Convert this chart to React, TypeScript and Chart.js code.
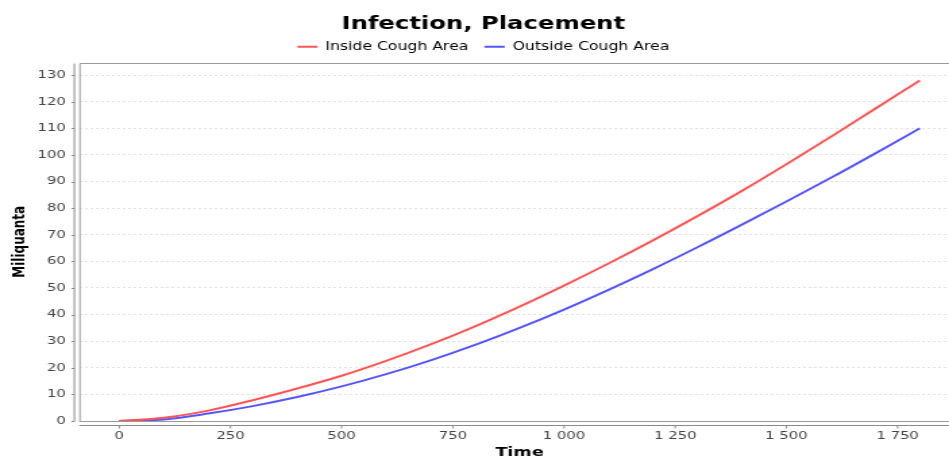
import React, { useEffect, useRef } from "react";
import { Chart, registerables } from "chart.js";

Chart.register(...registerables);

// ---- data ----
const chartTitle = "Infection, Placement";
const xAxisTitle = "Time";
const yAxisTitle = "Miliquanta";
const seriesNames = ["Inside Cough Area", "Outside Cough Area"];
const seriesColors = ["#ff5555", "#5555ff"];

const times = [0, 100, 200, 300, 400, 500, 600, 700, 800, 900, 1000, 1100, 1200, 1300, 1400, 1500, 1600, 1700, 1800];
const insideCough = [0, 1.2, 3.9, 7.8, 12.2, 17.0, 22.6, 28.8, 35.6, 43.0, 50.9, 59.2, 67.9, 77.0, 86.5, 96.5, 106.8, 117.4, 128];
const outsideCough = [0, 0.6, 2.8, 5.6, 9.0, 13.0, 17.6, 22.8, 28.6, 35.0, 41.9, 49.3, 57.1, 65.3, 73.8, 82.5, 91.4, 100.6, 110];

const xTickValues = [0, 250, 500, 750, 1000, 1250, 1500, 1750];
const yTickValues = [0, 10, 20, 30, 40, 50, 60, 70, 80, 90, 100, 110, 120, 130];

// ---- layout constants ----
const STRETCH = 1.35;
const CANVAS_W = 716;
const CANVAS_H = 456;
const FONT = "'DejaVu Sans', sans-serif";

function fmt(v: number): string {
  return String(Math.round(v)).replace(/\B(?=(\d{3})+(?!\d))/g, " ");
}

const axisDeco = {
  id: "axisDeco",
  afterDatasetsDraw(chart: any) {
    const { ctx, chartArea: a, scales } = chart;
    ctx.save();
    ctx.strokeStyle = "#9a9a9a";
    ctx.lineWidth = 1;
    const top = Math.round(a.top) + 0.5;
    const bottom = Math.round(a.bottom) + 0.5;
    // plot border
    ctx.beginPath();
    ctx.moveTo(a.left + 0.5, bottom);
    ctx.lineTo(a.left + 0.5, top);
    ctx.lineTo(a.right + 20, top);
    ctx.moveTo(a.left, bottom);
    ctx.lineTo(a.right + 20, bottom);
    ctx.stroke();
    // offset axis lines + tick marks
    ctx.strokeStyle = "#8a8a8a";
    ctx.beginPath();
    const yx = a.left - 3.6;
    ctx.moveTo(yx, top);
    ctx.lineTo(yx, bottom);
    yTickValues.forEach((v) => {
      const py = Math.round(scales.y.getPixelForValue(v)) + 0.5;
      ctx.moveTo(yx - 2.2, py);
      ctx.lineTo(yx, py);
    });
    const xy = Math.round(a.bottom) + 4.5;
    ctx.moveTo(a.left, xy);
    ctx.lineTo(a.right + 20, xy);
    xTickValues.forEach((v) => {
      const px = scales.x.getPixelForValue(v);
      ctx.moveTo(px, xy);
      ctx.lineTo(px, xy + 3);
    });
    ctx.stroke();
    ctx.restore();
  },
};

export default function App() {
  const ref = useRef<HTMLCanvasElement | null>(null);

  useEffect(() => {
    document.body.style.margin = "0";
    const canvas = ref.current;
    if (!canvas) return;
    const chart = new Chart(canvas, {
      type: "line",
      data: {
        datasets: [
          {
            label: seriesNames[0],
            data: times.map((t, i) => ({ x: t, y: insideCough[i] })),
            borderColor: seriesColors[0],
            backgroundColor: seriesColors[0],
            borderWidth: 2,
            pointRadius: 0,
            cubicInterpolationMode: "monotone",
            fill: false,
          },
          {
            label: seriesNames[1],
            data: times.map((t, i) => ({ x: t, y: outsideCough[i] })),
            borderColor: seriesColors[1],
            backgroundColor: seriesColors[1],
            borderWidth: 2,
            pointRadius: 0,
            cubicInterpolationMode: "monotone",
            fill: false,
          },
        ],
      },
      options: {
        responsive: false,
        animation: false,
        devicePixelRatio: 1,
        layout: { padding: { left: 5, right: 5, top: 0, bottom: 0 } },
        plugins: {
          title: {
            display: true,
            text: chartTitle,
            color: "#000",
            font: { family: FONT, size: 18, weight: "bold", lineHeight: 0.5 },
            padding: { top: 20, bottom: 0 },
          },
          legend: {
            display: true,
            labels: {
              font: { family: FONT, size: 11.6 },
              color: "#333",
              boxWidth: 15,
              boxHeight: 2,
              padding: 12,
              generateLabels: (c: any) =>
                c.data.datasets.map((ds: any, i: number) => ({
                  text: ds.label,
                  fillStyle: ds.borderColor,
                  strokeStyle: ds.borderColor,
                  lineWidth: 0,
                  hidden: false,
                  datasetIndex: i,
                })),
            },
          },
          tooltip: { enabled: false },
        },
        scales: {
          x: {
            type: "linear",
            min: -90,
            max: 1890,
            afterBuildTicks: (s: any) => {
              s.ticks = xTickValues.map((v) => ({ value: v }));
            },
            afterFit: (s: any) => {
              s.height = 35;
            },
            grid: { display: false, drawTicks: false },
            border: { display: false },
            ticks: {
              padding: 9,
              color: "#444",
              font: { family: FONT, size: 11 },
              maxRotation: 0,
              autoSkip: false,
              callback: (v: any) => fmt(Number(v)),
            },
            title: {
              display: true,
              text: xAxisTitle,
              color: "#000",
              font: { family: FONT, size: 13, weight: "bold", lineHeight: 0.5 },
              padding: 0,
            },
          },
          y: {
            type: "linear",
            min: 0,
            max: 134.7,
            afterBuildTicks: (s: any) => {
              s.ticks = yTickValues.map((v) => ({ value: v }));
            },
            afterFit: (s: any) => {
              s.width = 53.7;
            },
            grid: { color: "#e0e0e0", drawTicks: false },
            border: { display: false, dash: [2, 2] },
            ticks: {
              padding: 10,
              color: "#444",
              font: { family: FONT, size: 11 },
              autoSkip: false,
              callback: (v: any) => fmt(Number(v)),
            },
            title: {
              display: true,
              text: yAxisTitle,
              color: "#000",
              font: { family: FONT, size: 12, weight: "bold" },
              padding: { top: 2.4, bottom: 0 },
            },
          },
        },
      },
      plugins: [axisDeco],
    } as any);
    return () => chart.destroy();
  }, []);

  return (
    <div style={{ width: 949, height: 456, overflow: "hidden", position: "relative", background: "#fff" }}>
      <canvas
        ref={ref}
        width={CANVAS_W}
        height={CANVAS_H}
        style={{ display: "block", transform: `scaleX(${STRETCH})`, transformOrigin: "0 0" }}
      />
    </div>
  );
}
